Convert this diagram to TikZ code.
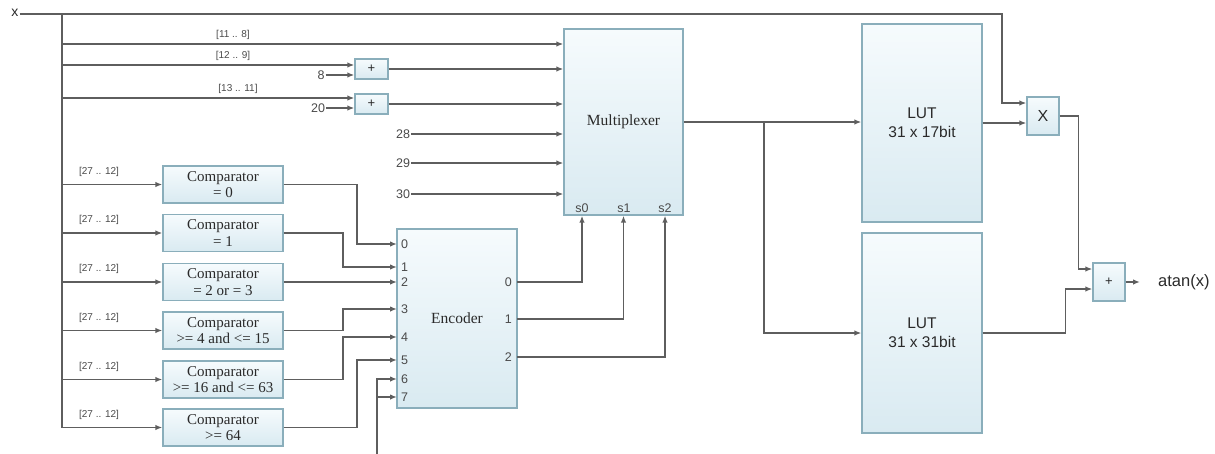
\documentclass[tikz,border=0pt]{standalone}
\usepackage{fontspec}
\setmainfont{Liberation Serif}
\setsansfont{Liberation Sans}
\usetikzlibrary{arrows.meta}
\definecolor{wirec}{HTML}{5E5E5E}
\definecolor{boxc}{HTML}{8AAEBB}
\definecolor{boxtop}{HTML}{F6FBFD}
\definecolor{boxbot}{HTML}{D9EAF1}
\definecolor{labc}{HTML}{4A4A4A}
\definecolor{txtc}{HTML}{2A2A2A}
\tikzset{
  wire/.style={draw=wirec, line width=1.6pt},
  arr/.style={wire, -{Latex[length=7pt,width=5.5pt]}},
  blk/.style={draw=boxc, line width=1.3pt, top color=boxtop, bottom color=boxbot, inner sep=0pt, text=txtc},
  cmp/.style={blk, minimum width=120pt, minimum height=37pt, align=center, font=\fontsize{15}{16.5}\selectfont},
  lut/.style={blk, minimum width=120pt, align=center, font=\sffamily\fontsize{15.5}{19}\selectfont},
  sml/.style={blk, font=\sffamily\fontsize{13}{14}\selectfont},
  bits/.style={text=labc, font=\sffamily\fontsize{10}{11}\selectfont, inner sep=0pt},
  num/.style={text=labc, font=\sffamily\fontsize{12.5}{13}\selectfont, inner sep=1pt},
}
\begin{document}
\begin{tikzpicture}[x=1pt, y=-1pt]
\useasboundingbox (0,0) rectangle (1215,453);
% main blocks
\node[blk, minimum width=119pt, minimum height=186pt, font=\fontsize{15.5}{18}\selectfont] (mux) at (623.5,122) {Multiplexer};
\node[lut, minimum height=198pt] (lut1) at (922,123) {LUT\\31 x 17bit};
\node[lut, minimum height=200pt] (lut2) at (922,333) {LUT\\31 x 31bit};
\node[sml, minimum width=32pt, minimum height=38pt, font=\sffamily\fontsize{16}{17}\selectfont] (mul) at (1043,116) {X};
\node[sml, minimum width=32pt, minimum height=38pt] (add) at (1109,282) {+};
\node[sml, minimum width=33pt, minimum height=20pt] (add1) at (371.5,69) {+};
\node[sml, minimum width=33pt, minimum height=20pt] (add2) at (371.5,104) {+};
\node[blk, minimum width=120pt, minimum height=179pt, font=\fontsize{15.5}{18}\selectfont] (enc) at (457,318.5) {Encoder};
\node[cmp] (comp1) at (223,184.5) {Comparator\\= 0};
\node[cmp] (comp2) at (223,233) {Comparator\\= 1};
\node[cmp] (comp3) at (223,282) {Comparator\\= 2 or = 3};
\node[cmp] (comp4) at (223,330.5) {Comparator\\>= 4 and <= 15};
\node[cmp] (comp5) at (223,379.5) {Comparator\\>= 16 and <= 63};
\node[cmp] (comp6) at (223,427.5) {Comparator\\>= 64};
% labels
\node[text=txtc, font=\sffamily\fontsize{14}{15}\selectfont, inner sep=1pt] (xin) at (15,12.5) {x};
\node[text=txtc, font=\sffamily\fontsize{16.5}{18}\selectfont, inner sep=0pt, anchor=west] (atan) at (1158,282) {atan(x)};
\node[num] (c8) at (321,75) {8};
\node[num] (c20) at (318,108) {20};
\node[num] (c28) at (403,134) {28};
\node[num] (c29) at (403,163) {29};
\node[num] (c30) at (403,194) {30};
\node[num] (zero) at (328,459) {0};
\node[bits] at (233,35) {[11 .. 8]};
\node[bits] at (233,56) {[12 .. 9]};
\node[bits] at (238,89) {[13 .. 11]};
\foreach \n/\yy in {comp1/184.5,comp2/233,comp3/282,comp4/330.5,comp5/379.5,comp6/427.5}{
  \node[bits] at (99,\yy-13) {[27 .. 12]};
}
% mux select labels
\node[num] at (582,208) {s0};
\node[num] at (624,208) {s1};
\node[num] at (665,208) {s2};
% encoder pins
\foreach \k/\yy in {0/244,1/267,2/282,3/309,4/337,5/360,6/379,7/397}{
  \coordinate (e\k) at (397,\yy);
  \node[num, anchor=west] at (400,\yy) {\k};
}
\foreach \k/\yy in {0/282,1/319,2/357}{
  \coordinate (o\k) at (517,\yy);
  \node[num, anchor=east] at (513,\yy) {\k};
}
% input bus
\coordinate (j0) at (62,14);
\coordinate (tr) at (1002,14);
\draw[arr] (xin.east |- j0) -- (tr) |- ([yshift=13pt]mul.west);
\draw[wire] (j0) -- (62,427.5);
\coordinate (b1) at (62,44);
\coordinate (b2) at (62,65);
\coordinate (b3) at (62,98);
\draw[arr] (b1) -- (b1 -| mux.west);
\draw[arr] (b2) -- ([yshift=4pt]add1.west);
\draw[arr] (c8.east) -- ([yshift=-6pt]add1.west);
\draw[arr] (add1.east) -- (add1.east -| mux.west);
\draw[arr] (b3) -- ([yshift=6pt]add2.west);
\draw[arr] (c20.east) -- ([yshift=-4pt]add2.west);
\draw[arr] (add2.east) -- (add2.east -| mux.west);
\draw[arr] (c28.east) -- (c28.east -| mux.west);
\draw[arr] (c29.east) -- (c29.east -| mux.west);
\draw[arr] (c30.east) -- (c30.east -| mux.west);
% comparator inputs
\foreach \n in {comp1,comp2,comp3,comp4,comp5,comp6}{
  \draw[arr] (\n.west -| j0) -- (\n.west);
}
% comparator outputs to encoder
\draw[arr] (comp1.east) -| (357,244) -- (e0);
\draw[arr] (comp2.east) -| (343,267) -- (e1);
\draw[arr] (comp3.east) -- (e2);
\draw[arr] (comp4.east) -| (343,309) -- (e3);
\draw[arr] (comp5.east) -| (343,337) -- (e4);
\draw[arr] (comp6.east) -| (357,360) -- (e5);
\draw[arr] (zero.east) -| (377,379) -- (e6);
\draw[arr] (377,397) -- (e7);
% encoder to mux selects
\draw[arr] (o0) -| ([xshift=-41.5pt]mux.south);
\draw[arr] (o1) -| (mux.south);
\draw[arr] (o2) -| ([xshift=41.5pt]mux.south);
% mux to LUTs
\coordinate (jm) at (764,122);
\draw[arr] (mux.east) -- (mux.east -| lut1.west);
\draw[arr] (jm) |- (lut2.west);
% LUTs to arithmetic
\draw[arr] (lut1.east) -- (lut1.east -| mul.west);
\draw[arr] (mul.east) -- ++(19,0) |- ([yshift=13pt]add.west);
\draw[arr] (lut2.east) -- ++(83,0) |- ([yshift=-7pt]add.west);
\draw[arr] (add.east) -- ([xshift=-18pt]atan.west);
\end{tikzpicture}
\end{document}
